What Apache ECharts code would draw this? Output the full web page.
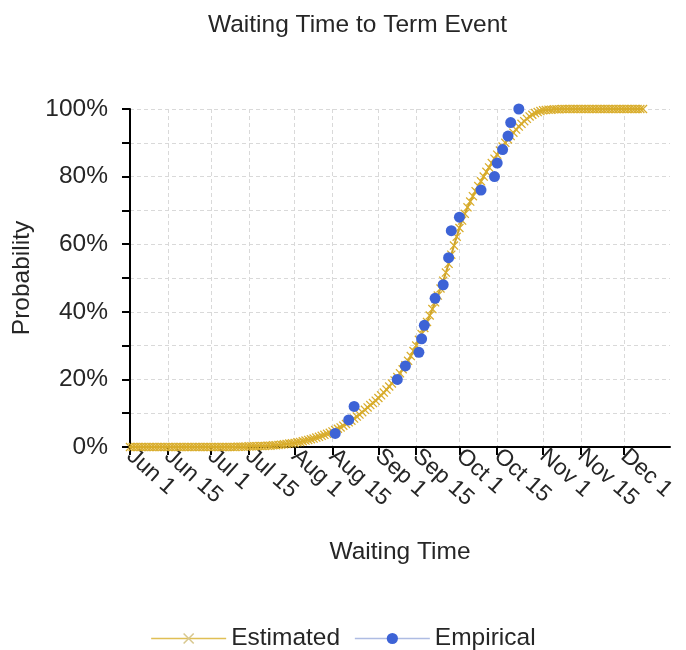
<!DOCTYPE html>
<html><head><meta charset="utf-8">
<script src="https://cdn.jsdelivr.net/npm/echarts@6/dist/echarts.min.js"></script>
<style>html,body{margin:0;padding:0;background:#fff}#c{width:686px;height:650px}</style>
</head><body><div id="c"></div>
<script>
const titleText = 'Waiting Time to Term Event';
const xAxisTitle = 'Waiting Time';
const yAxisTitle = 'Probability';
const xMin = '2009-06-01';
const xMax = '2009-12-18';
const tickDates = ['2009-06-01','2009-06-15','2009-07-01','2009-07-15','2009-08-01','2009-08-15',
  '2009-09-01','2009-09-15','2009-10-01','2009-10-15','2009-11-01','2009-11-15','2009-12-01'];
const monthNames = ['Jan','Feb','Mar','Apr','May','Jun','Jul','Aug','Sep','Oct','Nov','Dec'];
const yMin = 0, yMax = 100, yStep = 10, yLabelStep = 20;

// Estimated curve: one value per day starting at estimatedStart (percent)
const estimatedStart = '2009-06-01';
const estimatedValues = [
  0,0,0,0,0,0,0,0,0,0, 0,0,0,0,0,0,0,0,0,0, 0,0,0,0,0,0,0,0,0,0, 0,0,0,0,0,0,0,0,0,0,
  0.1,0.1,0.1,0.1,0.2,0.2,0.2,0.2,0.3,0.3,
  0.3,0.4,0.4,0.5,0.5,0.6,0.7,0.8,0.9,1.0,
  1.1,1.2,1.4,1.5,1.7,1.9,2.1,2.3,2.5,2.8,
  3.0,3.3,3.6,3.9,4.2,4.6,5.0,5.4,5.8,6.3,
  6.8,7.3,7.8,8.4,9.0,9.6,10.3,11.0,11.7,12.4,
  13.0,13.7,14.5,15.3,16.1,17.0,17.9,18.8,19.7,20.7,
  21.8,23.0,24.2,25.5,26.9,28.4,30.0,31.7,33.4,35.2,
  37.0,38.9,40.8,42.8,44.8,46.9,49.2,51.6,54.2,56.9,
  59.6,62.2,64.8,67.0,69.0,70.9,72.6,74.2,75.7,77.2,
  78.6,80.0,81.4,82.7,84.0,85.3,86.5,87.7,88.9,90.0,
  91.0,92.0,93.0,93.9,94.8,95.6,96.4,97.1,97.8,98.3,
  98.8,99.1,99.4,99.6,99.7,99.8,99.8,99.9,99.9,99.9,
  100,100,100,100,100,100,100,100,100,100,
  100,100,100,100,100,100,100,100,100,100,
  100,100,100,100,100,100,100,100,100,100,100
];

const empiricalDates = ['2009-08-16','2009-08-21','2009-08-23','2009-09-08','2009-09-11','2009-09-16',
  '2009-09-17','2009-09-18','2009-09-22','2009-09-25','2009-09-27','2009-09-28','2009-10-01',
  '2009-10-09','2009-10-14','2009-10-15','2009-10-17','2009-10-19','2009-10-20','2009-10-23'];
const empiricalValues = [4,8,12,20,24,28,32,36,44,48,56,64,68,76,80,84,88,92,96,100];

function toTime(s){ const p = s.split('-').map(Number); return Date.UTC(p[0], p[1]-1, p[2]); }
const DAY = 86400000;
const estStartT = toTime(estimatedStart);
const estimatedData = estimatedValues.map((v,i)=>[estStartT + i*DAY, v]);
const empiricalData = empiricalDates.map((d,i)=>[toTime(d), empiricalValues[i]]);
const tickValues = tickDates.map(toTime);

const FONT = '"Liberation Sans", Arial, sans-serif';
const TXT = '#262626';
const xSym = 'path://M0,1L1,0L5,4L9,0L10,1L6,5L10,9L9,10L5,6L1,10L0,9L4,5Z';

const chart = echarts.init(document.getElementById('c'), null, {renderer:'canvas'});
chart.setOption({
  animation: false,
  backgroundColor: '#fff',
  title: { text: titleText, left: 203, top: 8,
    textStyle: { fontSize: 24.5, fontWeight: 'normal', color: TXT, fontFamily: FONT } },
  grid: { left: 130, right: 16, top: 109, bottom: 203, containLabel: false, outerBoundsMode: 'none' },
  legend: {
    top: 621, left: 'center', itemWidth: 75, itemHeight: 14, itemGap: 14,
    textStyle: { fontSize: 24.5, color: TXT, fontFamily: FONT },
    data: [
      { name: 'Estimated', lineStyle: { color: '#e0bf55', width: 1.5, opacity: 1 }, itemStyle: { color: '#d8c890' } },
      { name: 'Empirical', lineStyle: { color: '#aebce3', width: 1.5, opacity: 1 }, itemStyle: { color: '#3d63d6' } }
    ]
  },
  xAxis: {
    type: 'value', min: toTime(xMin), max: toTime(xMax),
    name: xAxisTitle, nameLocation: 'middle', nameGap: 93,
    nameTextStyle: { fontSize: 24.5, color: TXT, fontFamily: FONT },
    axisLine: { show: true, lineStyle: { color: '#000', width: 2 } },
    axisTick: { show: true, length: 8, customValues: tickValues, lineStyle: { color: '#000', width: 2 } },
    axisLabel: {
      customValues: tickValues, rotate: -42, margin: 6, fontSize: 23, color: TXT, fontFamily: FONT,
      hideOverlap: false, showMinLabel: true, showMaxLabel: true,
      formatter: function(v){ const d = new Date(v); return monthNames[d.getUTCMonth()] + ' ' + d.getUTCDate(); }
    },
    splitLine: { show: true, lineStyle: { color: '#d9d9d9', type: [4,3], width: 1 } }
  },
  yAxis: {
    type: 'value', min: yMin, max: yMax, interval: yStep,
    name: yAxisTitle, nameLocation: 'middle', nameGap: 94,
    nameTextStyle: { fontSize: 24.5, color: TXT, fontFamily: FONT },
    axisLine: { show: true, lineStyle: { color: '#000', width: 2 } },
    axisTick: { show: true, length: 8, lineStyle: { color: '#000', width: 2 } },
    axisLabel: { margin: 22, fontSize: 24.5, color: TXT, fontFamily: FONT,
      formatter: function(v){ return v % yLabelStep === 0 ? v + '%' : ''; } },
    splitLine: { show: true, lineStyle: { color: '#d9d9d9', type: [4,3], width: 1 } }
  },
  series: [
    { name: 'Estimated', type: 'line', data: estimatedData, showAllSymbol: true,
      symbol: xSym, symbolSize: 9, z: 2,
      itemStyle: { color: '#d9ad2c' },
      lineStyle: { color: '#cca22a', width: 2 } },
    { name: 'Empirical', type: 'line', data: empiricalData, showAllSymbol: true,
      symbol: 'circle', symbolSize: 11, z: 3,
      itemStyle: { color: '#3d63d6' },
      lineStyle: { opacity: 0 } }
  ]
});
</script></body></html>
